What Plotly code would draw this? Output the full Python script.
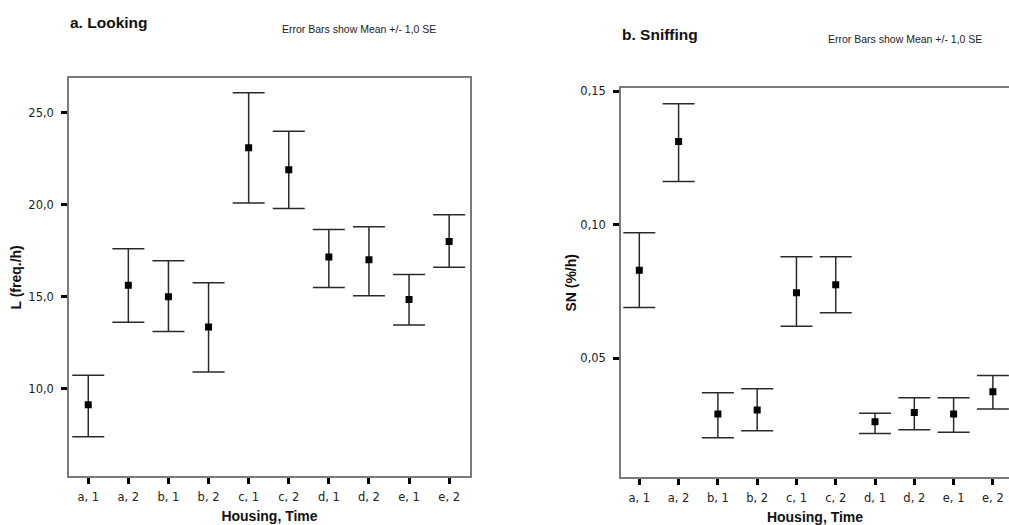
import plotly.graph_objects as go

categories = ["a, 1", "a, 2", "b, 1", "b, 2", "c, 1", "c, 2", "d, 1", "d, 2", "e, 1", "e, 2"]

looking_mean = [9.12, 15.62, 15.0, 13.35, 23.1, 21.9, 17.15, 17.0, 14.85, 18.0]
looking_upper = [10.72, 17.6, 16.95, 15.75, 26.1, 24.0, 18.65, 18.8, 16.2, 19.45]
looking_lower = [7.37, 13.6, 13.1, 10.9, 20.1, 19.8, 15.5, 15.05, 13.45, 16.6]

sniff_mean = [0.083, 0.1312, 0.0291, 0.0306, 0.0745, 0.0775, 0.0262, 0.0296, 0.0291, 0.0374]
sniff_upper = [0.097, 0.1454, 0.037, 0.0385, 0.088, 0.088, 0.0294, 0.0352, 0.0352, 0.0435]
sniff_lower = [0.069, 0.1162, 0.0202, 0.0228, 0.062, 0.067, 0.0218, 0.0232, 0.0222, 0.031]

looking_ticks = [10, 15, 20, 25]
looking_ticktext = ["10,0", "15,0", "20,0", "25,0"]
sniff_ticks = [0.05, 0.10, 0.15]
sniff_ticktext = ["0,05", "0,10", "0,15"]

xpos = list(range(len(categories)))

def err(mean, up, lo):
    return dict(type="data", symmetric=False,
                array=[u - m for u, m in zip(up, mean)],
                arrayminus=[m - l for m, l in zip(mean, lo)],
                color="#2a2a2a", thickness=1.5, width=16)

fig = go.Figure()
fig.add_trace(go.Scatter(x=xpos, y=looking_mean, mode="markers",
                         marker=dict(symbol="square", size=7, color="black"),
                         error_y=err(looking_mean, looking_upper, looking_lower),
                         xaxis="x", yaxis="y", showlegend=False))
fig.add_trace(go.Scatter(x=xpos, y=sniff_mean, mode="markers",
                         marker=dict(symbol="square", size=7, color="black"),
                         error_y=err(sniff_mean, sniff_upper, sniff_lower),
                         xaxis="x2", yaxis="y2", showlegend=False))

tickfont = dict(family="DejaVu Sans", size=11.5, color="#222")
axtitlefont = dict(family="Liberation Sans", size=14, color="#111")
common_x = dict(tickmode="array", tickvals=xpos, ticktext=categories,
                ticks="outside", ticklen=6, tickwidth=3, tickcolor="black",
                showline=True, linecolor="#7a7a7a", linewidth=1.5,
                showgrid=False, zeroline=False, tickfont=tickfont,
                ticklabelstandoff=3)
common_y = dict(ticks="outside", ticklen=6, tickwidth=3, tickcolor="black",
                showline=True, linecolor="#7a7a7a", linewidth=1.5,
                showgrid=False, zeroline=False, tickfont=tickfont,
                ticklabelstandoff=5)

fig.update_layout(
    width=1009, height=525,
    margin=dict(l=0, r=0, t=0, b=0),
    paper_bgcolor="white", plot_bgcolor="white",
    xaxis=dict(common_x, domain=[69/1009, 470/1009], range=[-0.48, 9.52], mirror=True,
               anchor="y",
               title=dict(text="<b>Housing, Time</b>", font=axtitlefont, standoff=8)),
    yaxis=dict(common_y, domain=[1-477/525, 1-75/525], range=[5.215, 26.88], mirror=True,
               anchor="x",
               tickmode="array", tickvals=looking_ticks, ticktext=looking_ticktext,
               title=dict(text="<b>L (freq./h)</b>", font=axtitlefont, standoff=3)),
    xaxis2=dict(common_x, domain=[621/1009, 1.0], range=[-0.466, 9.41], mirror=True,
                anchor="y2",
                title=dict(text="<b>Housing, Time</b>", font=axtitlefont, standoff=10)),
    yaxis2=dict(common_y, domain=[1-478/525, 1-85/525], range=[0.0053, 0.1512],
                anchor="x2",
                tickmode="array", tickvals=sniff_ticks, ticktext=sniff_ticktext,
                title=dict(text="<b>SN (%/h)</b>", font=axtitlefont, standoff=0)),
    annotations=[
        dict(text="<b>a. Looking</b>", x=68, y=19, xref="paper", yref="paper",
             showarrow=False, xanchor="left", yanchor="middle",
             font=dict(family="Liberation Sans", size=15.5, color="#111")),
        dict(text="Error Bars show Mean +/- 1,0 SE", x=280, y=25, xref="paper", yref="paper",
             showarrow=False, xanchor="left", yanchor="middle",
             font=dict(family="Liberation Sans", size=10.5, color="#222")),
        dict(text="<b>b. Sniffing</b>", x=620, y=31, xref="paper", yref="paper",
             showarrow=False, xanchor="left", yanchor="middle",
             font=dict(family="Liberation Sans", size=15.5, color="#111")),
        dict(text="Error Bars show Mean +/- 1,0 SE", x=826, y=35, xref="paper", yref="paper",
             showarrow=False, xanchor="left", yanchor="middle",
             font=dict(family="Liberation Sans", size=10.5, color="#222")),
    ],
)

# convert pixel-based annotation positions to paper coordinates
for a in fig.layout.annotations:
    a.x = a.x / 1009
    a.y = 1 - a.y / 525

fig.write_html("out.html")
